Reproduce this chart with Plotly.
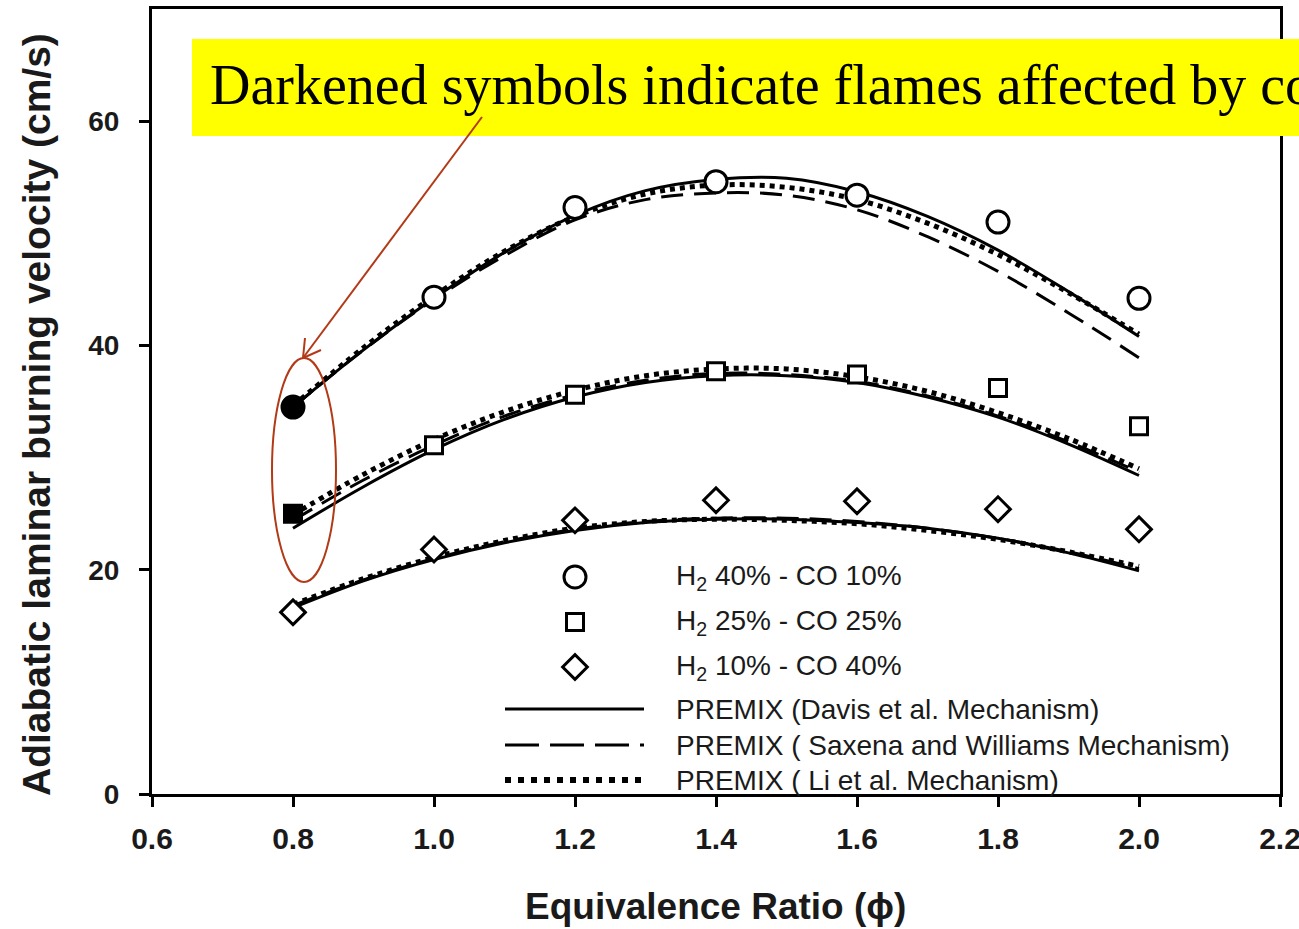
import plotly.graph_objects as go

# ---------------- data ----------------
PHI_EXP = [0.8, 1.0, 1.2, 1.4, 1.6, 1.8, 2.0]
SL_H40_CO10 = [34.5, 44.3, 52.3, 54.6, 53.4, 51.0, 44.2]
SL_H25_CO25 = [25.0, 31.1, 35.6, 37.7, 37.4, 36.2, 32.8]
SL_H10_CO40 = [16.2, 21.8, 24.4, 26.2, 26.1, 25.4, 23.6]
# 1 = flame affected (darkened symbol)
DARK_H40_CO10 = [1, 0, 0, 0, 0, 0, 0]
DARK_H25_CO25 = [1, 0, 0, 0, 0, 0, 0]
DARK_H10_CO40 = [0, 0, 0, 0, 0, 0, 0]

PHI_MODEL = [0.8, 0.9, 1.0, 1.1, 1.2, 1.3, 1.4, 1.5, 1.6, 1.7, 1.8, 1.9, 2.0]
DAVIS_H40 = [34.5, 39.6, 44.2, 48.3, 51.6, 53.8, 54.8, 54.9, 53.7, 51.5, 48.5, 44.8, 40.8]
SAXENA_H40 = [34.5, 39.6, 44.1, 48.0, 51.2, 53.0, 53.6, 53.4, 52.1, 49.7, 46.6, 42.9, 38.9]
LI_H40 = [34.6, 39.8, 44.4, 48.4, 51.5, 53.5, 54.3, 54.1, 53.0, 50.9, 48.1, 44.7, 41.0]

DAVIS_H25 = [23.7, 27.4, 30.7, 33.4, 35.4, 36.7, 37.3, 37.3, 36.7, 35.4, 33.6, 31.2, 28.4]
SAXENA_H25 = [24.4, 28.0, 31.1, 33.7, 35.6, 36.9, 37.5, 37.4, 36.8, 35.5, 33.7, 31.4, 28.7]
LI_H25 = [24.9, 28.5, 31.6, 34.1, 36.0, 37.3, 37.9, 37.9, 37.2, 35.9, 34.0, 31.7, 29.0]

DAVIS_H10 = [16.6, 19.0, 20.9, 22.4, 23.5, 24.2, 24.5, 24.5, 24.2, 23.7, 22.8, 21.5, 19.9]
SAXENA_H10 = [16.8, 19.1, 21.0, 22.5, 23.6, 24.3, 24.6, 24.6, 24.3, 23.7, 22.8, 21.6, 20.1]
LI_H10 = [16.9, 19.2, 21.1, 22.6, 23.7, 24.3, 24.5, 24.4, 24.1, 23.5, 22.7, 21.6, 20.3]

X_TICKS = [0.6, 0.8, 1.0, 1.2, 1.4, 1.6, 1.8, 2.0, 2.2]
X_TICK_TEXT = ["0.6", "0.8", "1.0", "1.2", "1.4", "1.6", "1.8", "2.0", "2.2"]
Y_TICKS = [0, 20, 40, 60]
Y_TICK_TEXT = ["0", "20", "40", "60"]

SERIES_LABELS = ["H<sub>2</sub> 40% - CO 10%", "H<sub>2</sub> 25% - CO 25%", "H<sub>2</sub> 10% - CO 40%"]
MODEL_LABELS = ["PREMIX (Davis et al. Mechanism)",
                "PREMIX ( Saxena and Williams Mechanism)",
                "PREMIX ( Li et al. Mechanism)"]
NOTE_TEXT = "Darkened symbols indicate flames affected by combustion instabilities"

# ---------------- layout geometry (pixels) ----------------
W, H = 1299, 929
PL, PR, PT, PB = 152, 1280, 9, 794
ACCENT = "#B23A17"
SANS = "Liberation Sans, Arial, sans-serif"
INK = "#1a1a1a"


def xp(px):
    return (px - PL) / (PR - PL)


def yp(py):
    return (PB - py) / (PB - PT)


SYMBOLS = ["circle", "square", "diamond"]
SIZES = [22, 17, 19]
MODEL_STYLES = [dict(dash="solid", width=3),
                dict(dash="22px,11px", width=3),
                dict(dash="5px,5px", width=5)]

fig = go.Figure()

models = [(DAVIS_H40, SAXENA_H40, LI_H40),
          (DAVIS_H25, SAXENA_H25, LI_H25),
          (DAVIS_H10, SAXENA_H10, LI_H10)]
for group in models:
    for values, style in zip(group, MODEL_STYLES):
        fig.add_trace(go.Scatter(
            x=PHI_MODEL, y=values, mode="lines",
            line=dict(color="black", shape="spline", smoothing=1.0, **style),
            showlegend=False, hoverinfo="skip"))

experiments = [(SL_H40_CO10, DARK_H40_CO10),
               (SL_H25_CO25, DARK_H25_CO25),
               (SL_H10_CO40, DARK_H10_CO40)]
for (values, dark), sym, size in zip(experiments, SYMBOLS, SIZES):
    fig.add_trace(go.Scatter(
        x=PHI_EXP, y=values, mode="markers",
        marker=dict(symbol=sym, size=size,
                    color=["black" if d else "white" for d in dark],
                    line=dict(color="black", width=3)),
        showlegend=False))

# ---------------- hand-placed key on a pixel-scaled overlay ----------------
KEY_MARK_X = 575
KEY_TEXT_X = 674
KEY_MARK_ROWS = [577, 622, 667]
KEY_LINE_ROWS = [709, 745, 780]
KEY_LINE_X = (505, 644)

for sym, size, row in zip(SYMBOLS, SIZES, KEY_MARK_ROWS):
    fig.add_trace(go.Scatter(
        x=[KEY_MARK_X], y=[row], xaxis="x2", yaxis="y2", mode="markers",
        marker=dict(symbol=sym, size=size, color="white",
                    line=dict(color="black", width=3)),
        showlegend=False, hoverinfo="skip"))

key_line_styles = [dict(dash="solid", width=3),
                   dict(dash="34px,11px", width=3),
                   dict(dash="6px,7px", width=6)]
for style, row in zip(key_line_styles, KEY_LINE_ROWS):
    fig.add_trace(go.Scatter(
        x=list(KEY_LINE_X), y=[row, row], xaxis="x2", yaxis="y2", mode="lines",
        line=dict(color="black", **style), showlegend=False, hoverinfo="skip"))

annotations = []
for label, row in zip(SERIES_LABELS + MODEL_LABELS, KEY_MARK_ROWS + KEY_LINE_ROWS):
    annotations.append(dict(
        x=KEY_TEXT_X, y=row, xref="x2", yref="y2", text=label, showarrow=False,
        xanchor="left", yanchor="middle",
        font=dict(family=SANS, size=28, color=INK)))

# axis titles
annotations.append(dict(
    x=xp(715), y=yp(906), xref="paper", yref="paper",
    text="Equivalence Ratio (\u03d5)", showarrow=False,
    xanchor="center", yanchor="middle",
    font=dict(family=SANS, size=37, color=INK, weight="bold")))
annotations.append(dict(
    x=xp(36), y=yp(415), xref="paper", yref="paper",
    text="Adiabatic laminar burning velocity (cm/s)", showarrow=False,
    textangle=-90, xanchor="center", yanchor="middle",
    font=dict(family=SANS, size=39, color=INK, weight="bold")))

# highlighted note
annotations.append(dict(
    x=xp(208), y=yp(85), xref="paper", yref="paper",
    text=NOTE_TEXT, showarrow=False, xanchor="left", yanchor="middle",
    font=dict(family="Liberation Serif, Times New Roman, serif", size=56, color="black")))

shapes = [
    dict(type="rect", xref="paper", yref="paper",
         x0=xp(192), x1=xp(1320), y0=yp(136), y1=yp(39),
         fillcolor="#FFFF00", line=dict(width=0), layer="above"),
    # pointer from the note to the circled symbols
    dict(type="line", xref="paper", yref="paper",
         x0=xp(482), y0=yp(117), x1=xp(303), y1=yp(358),
         line=dict(color=ACCENT, width=2), layer="above"),
    dict(type="line", xref="paper", yref="paper",
         x0=xp(303), y0=yp(358), x1=xp(321), y1=yp(350),
         line=dict(color=ACCENT, width=2), layer="above"),
    dict(type="line", xref="paper", yref="paper",
         x0=xp(303), y0=yp(358), x1=xp(305), y1=yp(338),
         line=dict(color=ACCENT, width=2), layer="above"),
    dict(type="circle", xref="paper", yref="paper",
         x0=xp(272), x1=xp(336), y0=yp(582), y1=yp(358),
         line=dict(color=ACCENT, width=2), layer="above"),
]

axis_common = dict(
    showline=True, linecolor="black", linewidth=3, mirror=True,
    ticks="outside", ticklen=10, tickwidth=2.5, tickcolor="black",
    showgrid=False, zeroline=False, automargin=False,
    ticklabeloverflow="allow",
)

fig.update_layout(
    width=W, height=H,
    margin=dict(l=PL, r=W - PR, t=PT, b=H - PB, pad=0),
    paper_bgcolor="white", plot_bgcolor="white",
    xaxis=dict(range=[0.6, 2.2], tickvals=X_TICKS, ticktext=X_TICK_TEXT,
               tickfont=dict(family=SANS, size=30, color=INK, weight="bold"),
               ticklabelstandoff=6, **axis_common),
    yaxis=dict(range=[0, 70], tickvals=Y_TICKS, ticktext=Y_TICK_TEXT,
               tickfont=dict(family=SANS, size=28, color=INK, weight="bold"),
               ticklabelstandoff=14, **axis_common),
    xaxis2=dict(range=[PL, PR], overlaying="x", anchor="y2", visible=False),
    yaxis2=dict(range=[PB, PT], overlaying="y", anchor="x2", visible=False),
    annotations=annotations,
    shapes=shapes,
    showlegend=False,
)

fig.write_html("out.html")
